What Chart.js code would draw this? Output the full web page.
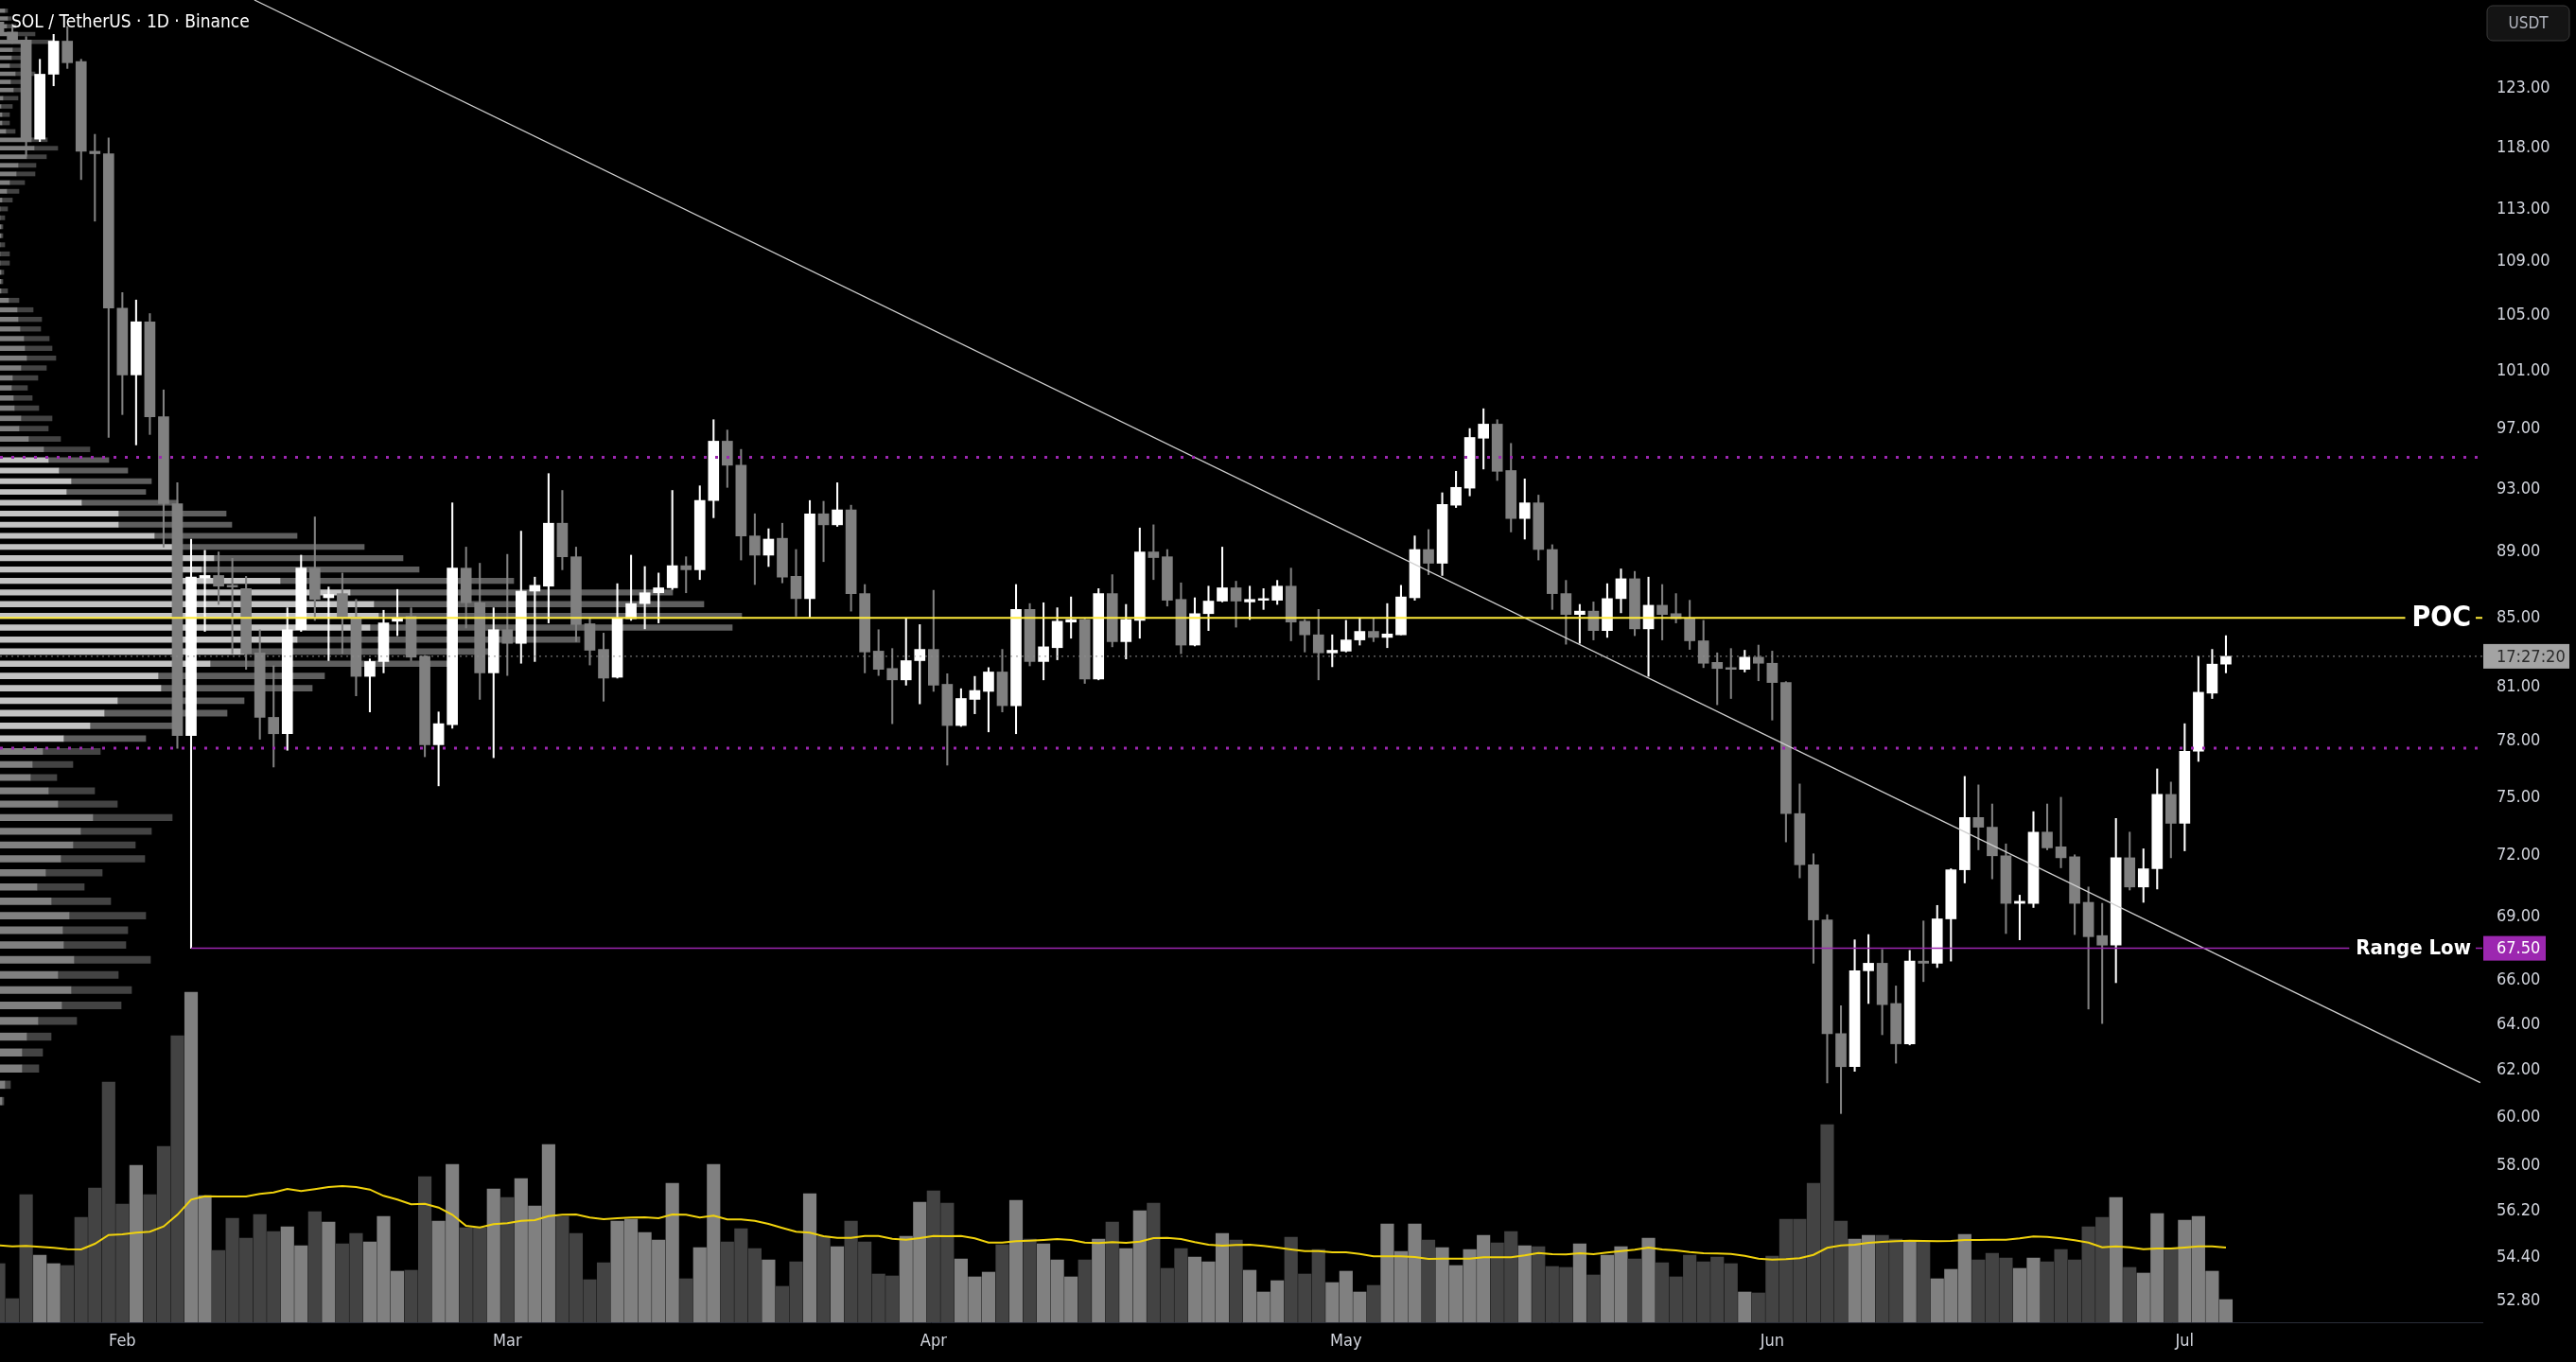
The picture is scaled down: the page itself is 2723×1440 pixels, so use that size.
<!DOCTYPE html>
<html>
<head>
<meta charset="utf-8">
<script src="https://cdn.jsdelivr.net/npm/chart.js@4.4.1/dist/chart.umd.min.js"></script>
<style>
  html, body { margin: 0; padding: 0; background: #000; }
  #wrap { width: 2723px; height: 1440px; }
</style>
</head>
<body>
<div id="wrap"><canvas id="chart" width="2723" height="1440"></canvas></div>
<script>
const title = "SOL / TetherUS · 1D · Binance";
const monthLabels = ["Feb", "Mar", "Apr", "May", "Jun", "Jul"];
const monthStartDay = [0, 28, 59, 89, 120, 150]; // days counted from 1 Feb
const firstDay = -9; // first candle = 23 Jan
const priceTicks = [123, 118, 113, 109, 105, 101, 97, 93, 89, 85, 81, 78, 75, 72, 69, 66, 64, 62, 60, 58, 56.2, 54.4, 52.8];

// daily candles, 23 Jan .. 4 Jul
const opens = [
  128.8, 127.9, 127.2, 118.7, 124.2, 127.1, 125.3, 117.7, 117.5, 105.5,
  100.7, 104.5, 97.8, 92.05, 78.3, 87.4, 87.55, 86.95, 86.75, 82.95,
  79.3, 78.4, 84.3, 88.0, 86.2, 86.45, 85.05, 81.6, 82.45, 84.8,
  85.1, 82.75, 77.8, 78.9, 88.0, 85.9, 81.8, 84.3, 83.5, 86.6,
  86.9, 90.8, 88.7, 84.65, 83.15, 81.55, 84.95, 85.85, 86.5, 86.8,
  88.15, 87.9, 92.25, 96.15, 94.55, 90.0, 88.8, 89.85, 87.5, 86.15,
  91.4, 90.7, 91.65, 86.45, 83.05, 82.05, 81.4, 82.5, 83.15, 81.15,
  78.85, 80.3, 80.75, 81.85, 79.95, 85.5, 82.45, 83.25, 84.75, 84.9,
  81.45, 86.45, 83.6, 84.85, 89.0, 88.7, 86.1, 83.4, 85.25, 86.0,
  86.8, 85.95, 86.05, 86.05, 86.9, 84.8, 84.0, 82.95, 83.05, 83.7,
  84.2, 83.85, 84.0, 86.2, 89.15, 88.3, 91.95, 93.05, 96.35, 97.3,
  94.2, 91.1, 92.1, 89.15, 86.45, 85.2, 85.4, 84.25, 86.15, 87.35,
  84.35, 85.75, 85.25, 84.95, 83.65, 82.4, 82.1, 82.0, 82.7, 82.35,
  81.25, 74.15, 71.55, 68.85, 63.6, 62.15, 66.45, 66.8, 64.95, 63.15,
  66.9, 66.8, 68.9, 71.3, 73.95, 73.45, 72.0, 69.65, 69.65, 73.2,
  72.45, 71.95, 69.7, 68.1, 67.65, 71.9, 70.45, 71.35, 75.15, 73.65,
  77.45, 80.65, 82.3
];
const highs = [
  130.0, 128.6, 127.5, 125.5, 127.7, 128.4, 125.5, 119.1, 118.8, 106.65,
  106.1, 105.1, 99.65, 93.4, 89.8, 89.1, 89.0, 88.6, 87.5, 84.3,
  82.2, 85.6, 88.8, 91.2, 86.85, 87.7, 86.1, 82.6, 85.45, 86.7,
  85.6, 82.8, 79.6, 92.1, 89.3, 88.3, 85.6, 88.85, 90.3, 87.45,
  94.0, 92.9, 89.3, 85.0, 84.1, 87.05, 88.8, 88.1, 87.7, 92.9,
  88.7, 93.2, 97.6, 96.9, 95.6, 91.4, 90.45, 90.8, 89.15, 92.25,
  92.2, 93.4, 91.95, 87.0, 84.3, 83.2, 84.95, 84.6, 86.65, 81.75,
  80.9, 81.6, 82.1, 83.15, 87.0, 85.85, 85.9, 85.6, 86.25, 85.0,
  86.75, 87.6, 85.8, 90.5, 90.7, 89.15, 87.1, 86.2, 86.9, 89.3,
  87.2, 86.9, 86.75, 87.25, 88.0, 84.9, 85.5, 84.0, 84.85, 84.95,
  84.95, 85.85, 86.95, 90.0, 90.4, 92.75, 94.15, 97.0, 98.35, 97.6,
  96.0, 93.65, 92.6, 89.45, 87.25, 85.8, 85.95, 87.05, 87.95, 87.8,
  87.45, 87.0, 86.45, 86.05, 84.85, 82.95, 83.2, 83.1, 83.4, 83.05,
  81.3, 75.7, 72.1, 69.1, 64.85, 67.9, 68.15, 67.45, 65.75, 67.4,
  68.8, 69.55, 71.35, 76.1, 75.65, 74.65, 72.6, 70.05, 74.25, 74.65,
  75.0, 72.05, 70.45, 69.65, 73.9, 73.2, 72.35, 76.5, 75.8, 78.95,
  82.75, 83.15, 83.95
];
const lows = [
  127.5, 126.9, 117.3, 118.5, 123.2, 124.7, 115.4, 112.1, 96.4, 97.95,
  95.9, 96.6, 89.3, 77.6, 67.5, 84.2, 85.8, 82.9, 82.0, 78.1,
  76.6, 77.5, 84.2, 84.85, 82.5, 82.9, 80.5, 79.6, 81.8, 83.95,
  82.5, 77.15, 75.6, 78.7, 84.4, 80.3, 77.1, 81.65, 82.35, 82.45,
  84.7, 87.9, 83.6, 82.25, 80.2, 81.5, 84.85, 84.35, 84.7, 86.7,
  86.5, 87.3, 91.15, 93.1, 88.5, 87.0, 88.1, 87.1, 85.1, 85.05,
  88.4, 90.6, 85.4, 81.8, 81.65, 78.95, 81.1, 80.05, 80.75, 76.7,
  78.8, 79.5, 78.5, 79.6, 78.4, 82.2, 81.4, 82.55, 83.8, 81.2,
  81.4, 83.3, 82.6, 83.8, 87.3, 85.7, 82.9, 83.35, 84.25, 85.95,
  84.45, 84.9, 85.5, 85.8, 83.65, 83.0, 81.4, 82.15, 83.0, 83.4,
  83.6, 83.25, 84.0, 86.05, 87.6, 87.55, 91.8, 92.55, 94.3, 93.55,
  90.25, 89.8, 88.5, 85.5, 83.45, 83.5, 83.7, 83.85, 85.3, 83.95,
  81.6, 83.7, 84.7, 83.15, 82.1, 80.0, 80.35, 81.85, 81.35, 79.15,
  72.7, 70.9, 66.8, 61.45, 60.15, 61.95, 64.95, 63.55, 62.3, 63.1,
  65.95, 66.6, 66.9, 70.65, 72.3, 70.85, 68.2, 67.9, 69.45, 72.3,
  71.4, 68.15, 64.7, 64.05, 65.9, 70.3, 69.7, 70.35, 71.9, 72.25,
  76.9, 80.35, 81.8
];
const closes = [
  127.9, 127.2, 118.7, 124.2, 127.1, 125.2, 117.7, 117.5, 105.5, 100.7,
  104.5, 97.8, 92.05, 78.3, 87.45, 87.55, 86.9, 86.85, 82.9, 79.3,
  78.4, 84.3, 88.0, 86.1, 86.4, 85.05, 81.6, 82.45, 84.7, 85.0,
  82.7, 77.8, 78.95, 88.0, 85.9, 81.8, 84.3, 83.5, 86.6, 86.95,
  90.8, 88.7, 84.6, 83.1, 81.5, 84.95, 85.85, 86.5, 86.8, 88.15,
  87.9, 92.25, 96.15, 94.55, 90.0, 88.8, 89.8, 87.45, 86.15, 91.4,
  90.7, 91.65, 86.45, 83.0, 82.0, 81.4, 82.5, 83.15, 81.1, 78.85,
  80.35, 80.8, 81.85, 79.95, 85.5, 82.45, 83.3, 84.8, 84.9, 81.45,
  86.45, 83.6, 84.9, 89.0, 88.65, 86.05, 83.4, 85.25, 86.0, 86.8,
  86.0, 86.1, 86.15, 86.9, 84.75, 84.0, 82.95, 83.1, 83.7, 84.2,
  83.85, 84.05, 86.25, 89.15, 88.3, 92.0, 93.1, 96.4, 97.3, 94.15,
  91.1, 92.1, 89.15, 86.45, 85.2, 85.4, 84.25, 86.15, 87.35, 84.35,
  85.75, 85.2, 84.95, 83.65, 82.35, 82.05, 82.0, 82.7, 82.35, 81.25,
  74.15, 71.55, 68.85, 63.6, 62.15, 66.45, 66.8, 64.9, 63.15, 66.9,
  66.8, 68.9, 71.3, 73.95, 73.45, 72.0, 69.65, 69.75, 73.2, 72.4,
  71.9, 69.65, 68.05, 67.65, 71.9, 70.45, 71.35, 75.15, 73.65, 77.45,
  80.7, 82.3, 82.75
];
// volume (relative units) and its 20-day average as shown on the chart
const volumes = [
  62, 25, 135, 71, 62, 60, 111, 142, 254, 125,
  166, 135, 186, 303, 349, 134, 76, 110, 89, 114,
  96, 101, 81, 117, 106, 83, 94, 85, 112, 54,
  55, 154, 107, 167, 100, 100, 141, 132, 152, 123,
  188, 112, 94, 45, 63, 107, 109, 95, 87, 147,
  46, 79, 167, 85, 99, 78, 66, 38, 64, 136,
  91, 80, 107, 85, 51, 49, 91, 127, 139, 126,
  67, 48, 53, 82, 129, 88, 83, 66, 48, 66,
  88, 106, 78, 118, 126, 57, 78, 69, 64, 94,
  87, 55, 32, 44, 90, 51, 77, 42, 54, 32,
  39, 104, 75, 104, 87, 79, 60, 77, 92, 84,
  96, 81, 80, 59, 58, 83, 50, 71, 80, 67,
  89, 63, 48, 71, 64, 69, 62, 32, 31, 70,
  109, 109, 147, 209, 107, 88, 92, 92, 88, 86,
  86, 46, 56, 93, 66, 73, 68, 57, 68, 64,
  77, 66, 101, 111, 132, 58, 52, 115, 78, 108,
  112, 54, 24
];
const volumeMA = [
  81.3, 80.3, 80.7, 79.7, 78.7, 77.3, 77.0, 83.0, 92.3, 93.0,
  94.7, 95.7, 101.3, 113.7, 129.7, 133.3, 133.0, 133.0, 133.0, 135.7,
  137.3, 141.0, 138.7, 140.7, 143.0, 144.0, 143.0, 140.3, 133.7, 129.7,
  124.7, 125.3, 121.3, 113.7, 102.0, 100.3, 103.7, 104.7, 107.3, 108.0,
  112.3, 113.7, 114.0, 110.7, 109.0, 110.0, 110.7, 111.0, 110.0, 114.0,
  113.7, 110.7, 112.7, 108.7, 108.7, 107.3, 104.0, 99.7, 95.7, 94.7,
  91.0, 89.3, 89.3, 91.3, 91.3, 88.3, 87.3, 89.0, 91.3, 91.0,
  91.3, 88.7, 84.3, 84.3, 85.7, 86.3, 87.0, 88.0, 87.0, 84.3,
  83.7, 84.7, 84.0, 85.3, 89.0, 89.3, 88.0, 84.7, 82.0, 81.0,
  81.7, 82.0, 80.7, 79.0, 77.0, 75.3, 75.3, 74.0, 74.0, 72.3,
  69.7, 69.7, 69.7, 69.0, 67.0, 67.3, 67.3, 67.3, 68.7, 68.7,
  68.7, 70.7, 73.3, 72.0, 71.7, 73.0, 72.0, 73.7, 75.3, 76.7,
  79.0, 77.0, 76.0, 74.3, 73.0, 72.7, 72.3, 70.3, 67.3, 66.3,
  66.7, 67.7, 71.3, 78.7, 81.3, 82.0, 84.0, 85.0, 85.7, 86.3,
  86.0, 85.7, 86.0, 87.0, 87.0, 87.3, 87.3, 88.7, 90.7, 90.3,
  88.7, 86.7, 84.3, 79.3, 80.3, 79.3, 77.3, 78.0, 78.0, 79.0,
  80.3, 80.3, 79.0
];

// visible range volume profile, 100 rows from the range low upward
const profileLow = 60.15;
const profileRowSize = 0.6985;
const profileUp = [
  2, 5, 23, 23, 28, 40, 65, 75, 61, 78,
  67, 66, 73, 54, 39, 48, 64, 77, 85, 98,
  61, 51, 32, 34, 45, 67, 95, 110, 124, 170,
  167, 222, 258, 314, 391, 400, 395, 370, 296, 213,
  226, 188, 163, 125, 125, 86, 70, 75, 62, 51,
  46, 30, 20, 22, 15, 14, 12, 13, 22, 28,
  26, 25, 21, 19, 18, 9, 1, 1, 1, 0,
  0, 0, 1, 1, 0, 0, 2, 7, 10, 17,
  19, 28, 36, 33, 6, 2, 2, 1, 3, 14,
  11, 16, 10, 12, 13, 25, 17, 7, 8, 5
];
const profileDown = [
  2, 6, 18, 22, 26, 41, 63, 64, 64, 81,
  66, 69, 81, 63, 50, 60, 89, 66, 75, 84,
  63, 49, 28, 43, 61, 87, 93, 130, 134, 160,
  176, 253, 262, 299, 383, 384, 349, 341, 247, 230,
  200, 197, 151, 120, 114, 102, 84, 85, 73, 64,
  49, 34, 31, 33, 26, 20, 17, 27, 27, 31,
  29, 27, 22, 25, 17, 11, 7, 2, 3, 10,
  10, 5, 2, 2, 5, 8, 11, 13, 16, 20,
  19, 21, 25, 17, 10, 8, 8, 12, 16, 13,
  16, 21, 17, 15, 14, 32, 20, 10, 4, 3
];

// drawn levels
const pocPrice = 85.0;
const valueAreaHigh = 95.08;
const valueAreaLow = 77.61;
const rangeLowPrice = 67.5;
const rangeLowStartDay = 5;
const trendDays = [9.6, 171.5];
const trendPrices = [130.8, 61.46];
const countdown = "17:27:20";

const dayMin = -8.9, dayMax = 171.65;
const priceMin = 52.0, priceMax = 130.8;
const volumeMax = 1398;
const profileMax = 2624;

const FONT = "'Liberation Sans Narrow', 'DejaVu Sans Condensed', 'Liberation Sans', sans-serif";
const TEXT = "#d1d4dc";

const days = opens.map((_, i) => firstDay + i);
const isUp = (i) => closes[i] >= opens[i];
const rowPrices = profileUp.map((_, i) => profileLow + (i + 0.5) * profileRowSize);
const inValueArea = (i) => rowPrices[i] > valueAreaLow && rowPrices[i] < valueAreaHigh;
const lastClose = closes[closes.length - 1];

const level = (price, from, style) => ({
  type: "line",
  xAxisID: "x",
  yAxisID: "y",
  data: [{ x: from, y: price }, { x: dayMax, y: price }],
  pointRadius: 0,
  order: 1,
  ...style,
});

const overlay = {
  id: "overlay",
  afterDraw(chart) {
    const { ctx, chartArea } = chart;
    const y = chart.scales.y;
    ctx.save();

    ctx.fillStyle = "#ffffff";
    ctx.font = `19px ${FONT}`;
    ctx.textAlign = "left";
    ctx.textBaseline = "middle";
    ctx.fillText(title, 12, 24);

    // text labels sitting on the POC and range low lines
    const lineLabel = (text, price, font) => {
      const py = y.getPixelForValue(price);
      ctx.font = font;
      const w = ctx.measureText(text).width;
      const right = chartArea.right - 12;
      ctx.fillStyle = "#000000";
      ctx.fillRect(right - w - 7, py - 15, w + 12, 30);
      ctx.fillStyle = "#ffffff";
      ctx.textAlign = "right";
      ctx.fillText(text, right, py + 1);
    };
    lineLabel("POC", pocPrice, `bold 30px ${FONT}`);
    lineLabel("Range Low", rangeLowPrice, `bold 22px ${FONT}`);

    // price axis tags
    const tag = (text, price, bg, fg, width) => {
      const py = y.getPixelForValue(price);
      ctx.fillStyle = bg;
      ctx.fillRect(chartArea.right + 1, py - 13, width, 26);
      ctx.fillStyle = fg;
      ctx.font = `18px ${FONT}`;
      ctx.textAlign = "left";
      ctx.fillText(text, chartArea.right + 15, py + 1);
    };
    tag(rangeLowPrice.toFixed(2), rangeLowPrice, "#9c27b0", "#ffffff", 66);
    tag(countdown, lastClose, "#a3a3a3", "#2a2a2a", 91);

    // currency badge
    const bx = chartArea.right + 5, by = 6, bw = 87, bh = 37;
    ctx.beginPath();
    ctx.roundRect(bx, by, bw, bh, 6);
    ctx.fillStyle = "#141414";
    ctx.fill();
    ctx.strokeStyle = "#3a3a3a";
    ctx.lineWidth = 1;
    ctx.stroke();
    ctx.fillStyle = "#b2b5be";
    ctx.font = `17px ${FONT}`;
    ctx.textAlign = "center";
    ctx.fillText("USDT", bx + bw / 2, by + bh / 2 + 1);

    ctx.restore();
  },
};

new Chart(document.getElementById("chart"), {
  type: "bar",
  data: {
    datasets: [
      {
        label: "Profile up",
        indexAxis: "y",
        xAxisID: "xProf",
        yAxisID: "y",
        stack: "vp",
        data: rowPrices.map((p, i) => ({ x: profileUp[i], y: p })),
        backgroundColor: (c) => (inValueArea(c.dataIndex) ? "#c3c3c3" : "#808080"),
        barThickness: "flex",
        categoryPercentage: 1,
        barPercentage: 0.92,
        order: 8,
      },
      {
        label: "Profile down",
        indexAxis: "y",
        xAxisID: "xProf",
        yAxisID: "y",
        stack: "vp",
        data: rowPrices.map((p, i) => ({ x: profileDown[i], y: p })),
        backgroundColor: (c) => (inValueArea(c.dataIndex) ? "#5e5e5e" : "#434343"),
        barThickness: "flex",
        categoryPercentage: 1,
        barPercentage: 0.92,
        order: 9,
      },
      {
        label: "Volume",
        xAxisID: "x",
        yAxisID: "yVol",
        grouped: false,
        data: days.map((d, i) => ({ x: d, y: volumes[i] })),
        backgroundColor: (c) => (isUp(c.dataIndex) ? "#808080" : "#434343"),
        barThickness: 13.5,
        order: 7,
      },
      {
        type: "line",
        label: "Volume MA",
        xAxisID: "x",
        yAxisID: "yVol",
        data: days.map((d, i) => ({ x: d, y: volumeMA[i] })),
        borderColor: "#f0d20c",
        borderWidth: 2,
        pointRadius: 0,
        tension: 0,
        order: 6,
      },
      {
        label: "Wicks",
        xAxisID: "x",
        yAxisID: "y",
        grouped: false,
        data: days.map((d, i) => ({ x: d, y: [lows[i], highs[i]] })),
        backgroundColor: (c) => (isUp(c.dataIndex) ? "#ffffff" : "#808080"),
        barThickness: 1.4,
        order: 3,
      },
      {
        label: "Bodies",
        xAxisID: "x",
        yAxisID: "y",
        grouped: false,
        data: days.map((d, i) => ({ x: d, y: [opens[i], closes[i]] })),
        backgroundColor: (c) => (isUp(c.dataIndex) ? "#ffffff" : "#808080"),
        barThickness: 11,
        minBarLength: 1.5,
        order: 2,
      },
      level(valueAreaHigh, dayMin, { label: "VAH", borderColor: "#9c27b0", borderWidth: 3, borderDash: [3, 9] }),
      level(valueAreaLow, dayMin, { label: "VAL", borderColor: "#9c27b0", borderWidth: 3, borderDash: [3, 9] }),
      level(lastClose, dayMin, { label: "Last", borderColor: "#8c8c8c", borderWidth: 1, borderDash: [2, 4] }),
      level(rangeLowPrice, rangeLowStartDay, { label: "Range Low", borderColor: "#9c27b0", borderWidth: 1.5 }),
      level(pocPrice, dayMin, { label: "POC", borderColor: "#ffeb3b", borderWidth: 2 }),
      {
        type: "line",
        label: "Trend",
        xAxisID: "x",
        yAxisID: "y",
        data: trendDays.map((d, i) => ({ x: d, y: trendPrices[i] })),
        borderColor: "#cfcfcf",
        borderWidth: 1.3,
        pointRadius: 0,
        order: 1,
      },
    ],
  },
  options: {
    responsive: false,
    devicePixelRatio: 1,
    animation: false,
    events: [],
    layout: { padding: 0 },
    plugins: { legend: { display: false }, tooltip: { enabled: false } },
    scales: {
      x: {
        type: "linear",
        position: "bottom",
        min: dayMin,
        max: dayMax,
        offset: false,
        grid: { display: false, drawTicks: false },
        border: { display: true, color: "#2a2e39" },
        afterBuildTicks: (s) => { s.ticks = monthStartDay.map((v) => ({ value: v })); },
        afterFit: (s) => { s.height = 42; s.paddingLeft = 0; s.paddingRight = 0; },
        ticks: {
          autoSkip: false,
          maxRotation: 0,
          padding: 10,
          color: TEXT,
          font: { family: FONT, size: 18 },
          callback: (v) => monthLabels[monthStartDay.indexOf(v)],
        },
      },
      y: {
        type: "logarithmic",
        position: "right",
        min: priceMin,
        max: priceMax,
        offset: false,
        beginAtZero: false,
        grid: { display: false, drawTicks: false, offset: false },
        border: { display: false },
        afterBuildTicks: (s) => { s.ticks = priceTicks.map((v) => ({ value: v })); },
        afterFit: (s) => { s.width = 99; s.paddingTop = 0; s.paddingBottom = 0; },
        ticks: {
          autoSkip: false,
          padding: 15,
          color: TEXT,
          font: { family: FONT, size: 18 },
          callback: (v) => Number(v).toFixed(2),
        },
      },
      yVol: { type: "linear", display: false, min: 0, max: volumeMax, offset: false },
      xProf: { type: "linear", display: false, min: 0, max: profileMax, offset: false, stacked: true, grid: { offset: false } },
    },
  },
  plugins: [overlay],
});
</script>
</body>
</html>
